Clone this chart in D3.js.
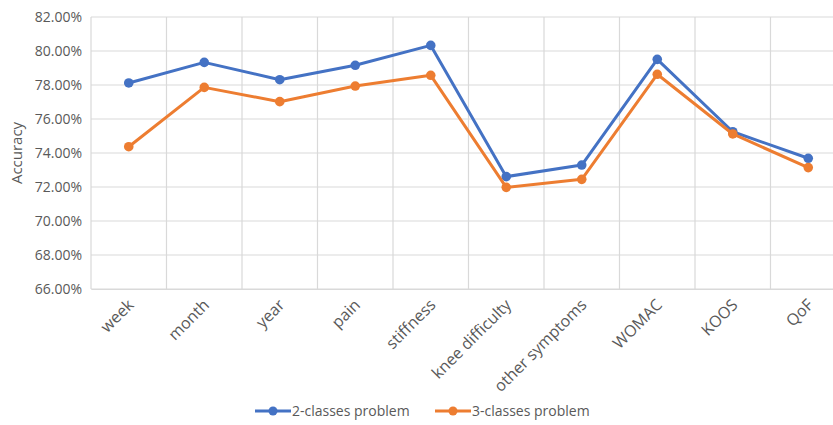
<!DOCTYPE html>
<html>
<head>
<meta charset="utf-8">
<script src="https://cdn.jsdelivr.net/npm/d3@7/dist/d3.min.js"></script>
<style>
  html, body { margin: 0; padding: 0; background: #fff; }
  svg { display: block; font-family: "Open Sans", "Noto Sans", sans-serif; }
</style>
</head>
<body>
<svg id="chart" width="833" height="425"></svg>
<script>
// Category labels along the x axis
const categories = ["week", "month", "year", "pain", "stiffness", "knee difficulty",
  "other symptoms", "WOMAC", "KOOS", "QoF"];

// Accuracy (%) per category for each problem setting
const twoClass   = [78.12, 79.33, 78.31, 79.16, 80.33, 72.61, 73.29, 79.51, 75.25, 73.69];
const threeClass = [74.37, 77.86, 77.02, 77.94, 78.57, 71.98, 72.45, 78.63, 75.12, 73.14];

// Y axis tick values
const yTicks = [66, 68, 70, 72, 74, 76, 78, 80, 82];

const series = [
  { name: "2-classes problem", values: twoClass,   color: "#4472C4" },
  { name: "3-classes problem", values: threeClass, color: "#ED7D31" }
];

const svg = d3.select("#chart");
const plot = { left: 91, right: 846, top: 17, bottom: 289 };

const x = d3.scaleBand().domain(categories).range([plot.left, plot.right]).padding(0);
const y = d3.scaleLinear().domain([66, 82]).range([plot.bottom, plot.top]);
const cx = c => x(c) + x.bandwidth() / 2;

// Horizontal gridlines
svg.append("g")
  .selectAll("line")
  .data(yTicks)
  .join("line")
  .attr("x1", plot.left).attr("x2", plot.right)
  .attr("y1", d => y(d)).attr("y2", d => y(d))
  .attr("stroke", "#d9d9d9").attr("stroke-width", 1.2);

// Vertical gridlines at category boundaries
svg.append("g")
  .selectAll("line")
  .data(categories)
  .join("line")
  .attr("x1", d => x(d)).attr("x2", d => x(d))
  .attr("y1", plot.top).attr("y2", plot.bottom)
  .attr("stroke", "#d9d9d9").attr("stroke-width", 1.2);

// Y axis labels
const yAxis = d3.axisLeft(y).tickValues(yTicks)
  .tickFormat(d => d.toFixed(2) + "%").tickSize(0).tickPadding(9);
const gy = svg.append("g").attr("transform", `translate(${plot.left},0)`).call(yAxis);
gy.select(".domain").remove();
gy.selectAll("text").attr("fill", "#595959").style("font-size", "14px")
  .style("font-family", "'Open Sans', sans-serif");

// X axis labels, rotated
const xAxis = d3.axisBottom(x).tickSize(0).tickPadding(0);
const gx = svg.append("g").attr("transform", `translate(0,${plot.bottom})`).call(xAxis);
gx.select(".domain").attr("stroke", "#d9d9d9").attr("stroke-width", 1.2);
gx.selectAll("text")
  .attr("fill", "#595959").style("font-size", "16px")
  .style("font-family", "'Open Sans', sans-serif")
  .attr("text-anchor", "end")
  .attr("dy", "0.35em")
  .attr("transform", "translate(2,13) rotate(-45)");

// Y axis title
svg.append("text")
  .attr("transform", `translate(22,${(plot.top + plot.bottom) / 2}) rotate(-90)`)
  .attr("text-anchor", "middle")
  .attr("fill", "#595959").style("font-size", "15px")
  .text("Accuracy");

// Lines and markers
const line = d3.line().x((d, i) => cx(categories[i])).y(d => y(d));
series.forEach(s => {
  const g = svg.append("g");
  g.append("path").datum(s.values)
    .attr("d", line).attr("fill", "none")
    .attr("stroke", s.color).attr("stroke-width", 3)
    .attr("stroke-linejoin", "round");
  g.selectAll("circle").data(s.values).join("circle")
    .attr("cx", (d, i) => cx(categories[i])).attr("cy", d => y(d))
    .attr("r", 4.8).attr("fill", s.color);
});

// Legend
const legendPos = [255, 435];
const legend = svg.append("g").selectAll("g").data(series).join("g")
  .attr("transform", (d, i) => `translate(${legendPos[i]},411)`);
legend.append("line").attr("x1", 0).attr("x2", 36).attr("y1", 0).attr("y2", 0)
  .attr("stroke", d => d.color).attr("stroke-width", 3);
legend.append("circle").attr("cx", 18).attr("cy", 0).attr("r", 4.5).attr("fill", d => d.color);
legend.append("text").attr("x", 37).attr("y", 0).attr("dy", "0.35em")
  .attr("fill", "#595959").style("font-size", "14px")
  .text(d => d.name);
</script>
</body>
</html>
